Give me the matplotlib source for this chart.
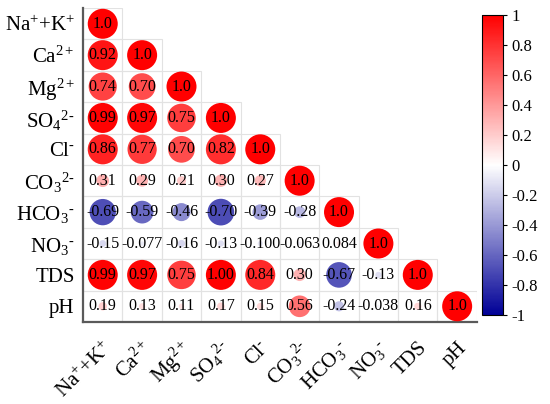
import numpy as np
import matplotlib
matplotlib.use("Agg")
import matplotlib.pyplot as plt
from matplotlib.colors import LinearSegmentedColormap, Normalize
from matplotlib.patches import Rectangle
from matplotlib.transforms import ScaledTranslation

# ---------------------------------------------------------------
# DATA: lower triangle of the correlation matrix, as printed
# ---------------------------------------------------------------
HY = '\u2010'  # short hyphen for the ion charges
labels = [r'$\mathrm{Na^{+}{+}K^{+}}$', r'$\mathrm{Ca^{2+}}$', r'$\mathrm{Mg^{2+}}$',
          r'$\mathrm{SO_4{}^{2' + HY + '}}$', r'$\mathrm{Cl^{' + HY + '}}$',
          r'$\mathrm{CO_3{}^{2' + HY + '}}$', r'$\mathrm{HCO_3{}^{' + HY + '}}$',
          r'$\mathrm{NO_3{}^{' + HY + '}}$', 'TDS', 'pH']

row_na   = ['1.0']
row_ca   = ['0.92', '1.0']
row_mg   = ['0.74', '0.70', '1.0']
row_so4  = ['0.99', '0.97', '0.75', '1.0']
row_cl   = ['0.86', '0.77', '0.70', '0.82', '1.0']
row_co3  = ['0.31', '0.29', '0.21', '0.30', '0.27', '1.0']
row_hco3 = ['-0.69', '-0.59', '-0.46', '-0.70', '-0.39', '-0.28', '1.0']
row_no3  = ['-0.15', '-0.077', '-0.16', '-0.13', '-0.100', '-0.063', '0.084', '1.0']
row_tds  = ['0.99', '0.97', '0.75', '1.00', '0.84', '0.30', '-0.67', '-0.13', '1.0']
row_ph   = ['0.19', '0.13', '0.11', '0.17', '0.15', '0.56', '-0.24', '-0.038', '0.16', '1.0']

rows = [row_na, row_ca, row_mg, row_so4, row_cl, row_co3, row_hco3, row_no3, row_tds, row_ph]
cbar_ticks = [1, 0.8, 0.6, 0.4, 0.2, 0, -0.2, -0.4, -0.6, -0.8, -1]

# ---------------------------------------------------------------
# STYLE
# ---------------------------------------------------------------
plt.rcParams['font.family'] = ['Liberation Serif', 'DejaVu Serif']
plt.rcParams['mathtext.fontset'] = 'custom'
plt.rcParams['mathtext.rm'] = 'Liberation Serif'
plt.rcParams['mathtext.it'] = 'Liberation Serif:italic'

cmap = LinearSegmentedColormap.from_list('bwr2', ['#000096', '#ffffff', '#ff0000'])
norm = Normalize(-1, 1)
n = len(labels)

fig = plt.figure(figsize=(5.5, 4.04), dpi=100)
ax = fig.add_axes([0.151, 0.203, 0.716, 0.777])
cax = fig.add_axes([0.876, 0.220, 0.038, 0.743])

full_d = 30 * 72 / 100  # diameter of a |r|=1 circle in points

xs, ys, vals = [], [], []
for i, row in enumerate(rows):
    for j, txt in enumerate(row):
        ax.add_patch(Rectangle((j - 0.5, i - 0.5), 1, 1, facecolor='none',
                               edgecolor='#e2e2e2', linewidth=0.8, zorder=1))
        xs.append(j)
        ys.append(i)
        vals.append(float(txt))
        ax.text(j, i, txt, ha='center', va='center', fontsize=11.5,
                color='black', zorder=4)

vals = np.array(vals)
frac = np.clip(1.2 * np.abs(vals) + 0.05, 0, 1)
ax.scatter(xs, ys, s=(full_d * frac) ** 2, c=vals, cmap=cmap, norm=norm,
           edgecolors='none', zorder=3)

ax.set_xlim(-0.5, n - 0.5)
ax.set_ylim(n - 0.5, -0.5)
ax.set_xticks(range(n))
ax.set_yticks(range(n))
ax.set_yticklabels(labels, fontsize=15)
ax.set_xticklabels(labels, fontsize=15, rotation=45, ha='right',
                   va='center', rotation_mode='anchor')
ax.tick_params(length=0, pad=6)
ax.tick_params(axis='x', pad=16)
shift = ScaledTranslation(7 / 100, -1 / 100, fig.dpi_scale_trans)
for lbl in ax.get_xticklabels():
    lbl.set_transform(lbl.get_transform() + shift)
for side in ['top', 'right']:
    ax.spines[side].set_visible(False)
for side in ['left', 'bottom']:
    ax.spines[side].set_color('#5a5a5a')
    ax.spines[side].set_linewidth(1.6)

sm = plt.cm.ScalarMappable(norm=norm, cmap=cmap)
cb = fig.colorbar(sm, cax=cax, ticks=cbar_ticks)
cb.ax.set_yticklabels([f'{t:g}' for t in cbar_ticks], fontsize=12)
cb.ax.tick_params(length=3, width=0.8)
cb.outline.set_linewidth(0.8)

plt.savefig('out.png', dpi=100)
plt.close()
